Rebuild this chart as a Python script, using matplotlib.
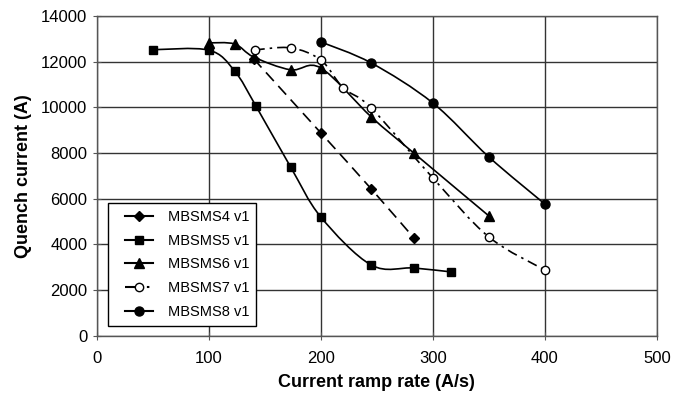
import numpy as np
import matplotlib
matplotlib.use("Agg")
import matplotlib.pyplot as plt
from matplotlib.path import Path
from matplotlib.patches import PathPatch
from matplotlib.lines import Line2D
from matplotlib.legend_handler import HandlerLine2D

plt.rcParams['font.family'] = ['Liberation Sans', 'DejaVu Sans']

labels = ["MBSMS4 v1", "MBSMS5 v1", "MBSMS6 v1", "MBSMS7 v1", "MBSMS8 v1"]

x4 = [140, 200, 245, 283]
y4 = [12120, 8880, 6430, 4290]

x5 = [50, 100, 123, 142, 173, 200, 245, 283, 316]
y5 = [12520, 12500, 11590, 10060, 7390, 5200, 3100, 2970, 2800]

x6 = [100, 123, 140, 173, 200, 245, 283, 350]
y6 = [12820, 12770, 12200, 11640, 11720, 9580, 8000, 5250]

x7 = [141, 173, 200, 220, 245, 300, 350, 400]
y7 = [12510, 12600, 12070, 10850, 9970, 6910, 4330, 2880]

x8 = [200, 245, 300, 350, 400]
y8 = [12860, 11940, 10190, 7830, 5770]

xticks = [0, 100, 200, 300, 400, 500]
yticks = [0, 2000, 4000, 6000, 8000, 10000, 12000, 14000]


def smooth_path(xs, ys):
    P = np.column_stack([xs, ys]).astype(float)
    n = len(P)
    verts = [P[0]]
    codes = [Path.MOVETO]
    for i in range(n - 1):
        p0 = P[i - 1] if i > 0 else P[i]
        p1 = P[i]
        p2 = P[i + 1]
        p3 = P[i + 2] if i + 2 < n else P[i + 1]
        c1 = p1 + (p2 - p0) / 6.0
        c2 = p2 - (p3 - p1) / 6.0
        verts += [c1, c2, p2]
        codes += [Path.CURVE4] * 3
    return Path(verts, codes)


fig = plt.figure(figsize=(6.87, 3.97), dpi=100)
ax = fig.add_axes([0.141, 0.154, 0.815, 0.806])

dashdot = (0, (6, 3, 1.5, 3))
series = [
    (x4, y4, dict(marker='D', ms=5, mfc='black', mec='black'), (0, (7, 4)), '-'),
    (x5, y5, dict(marker='s', ms=5.5, mfc='black', mec='black'), '-', '-'),
    (x6, y6, dict(marker='^', ms=6.5, mfc='black', mec='black'), '-', '-'),
    (x7, y7, dict(marker='o', ms=6, mfc='white', mec='black'), dashdot, (0, (7.5, 3, 1.2, 4))),
    (x8, y8, dict(marker='o', ms=6.5, mfc='black', mec='black'), '-', '-'),
]

handles = []
for (xs, ys, mk, ls, lls), lab in zip(series, labels):
    patch = PathPatch(smooth_path(xs, ys), fill=False, edgecolor='black',
                      linewidth=1.2, linestyle=ls, zorder=3)
    ax.add_patch(patch)
    ax.plot(xs, ys, linestyle='none', zorder=4, **mk)
    handles.append(Line2D([], [], color='black', linewidth=1.5,
                          linestyle=lls, **mk))

ax.set_xlim(0, 500)
ax.set_ylim(0, 14000)
ax.set_xticks(xticks)
ax.set_yticks(yticks)
ax.grid(True, color='#333333', linewidth=1.0)
ax.set_axisbelow(True)
for s in ax.spines.values():
    s.set_color('#555555')
    s.set_linewidth(1.0)
ax.tick_params(axis='both', labelsize=12, length=6, direction='inout',
               color='#555555')
ax.tick_params(axis='x', pad=8)
ax.tick_params(axis='y', pad=4)
ax.set_xlabel("Current ramp rate (A/s)", fontsize=13, fontweight='bold',
              labelpad=6)
ax.set_ylabel("Quench current (A)", fontsize=13, fontweight='bold',
              labelpad=6)

hmap = {h: HandlerLine2D(xpad=0.7) for h in handles}
leg = ax.legend(handles=handles, labels=labels, loc='lower left',
                bbox_to_anchor=(0.0196, 0.031), borderaxespad=0,
                fontsize=10.5, frameon=True, handler_map=hmap,
                fancybox=False, edgecolor='black', framealpha=1,
                handlelength=2.6, labelspacing=0.66, borderpad=0.5,
                handletextpad=1.0)
leg.get_frame().set_linewidth(1.0)

fig.savefig("out.png", dpi=100)
